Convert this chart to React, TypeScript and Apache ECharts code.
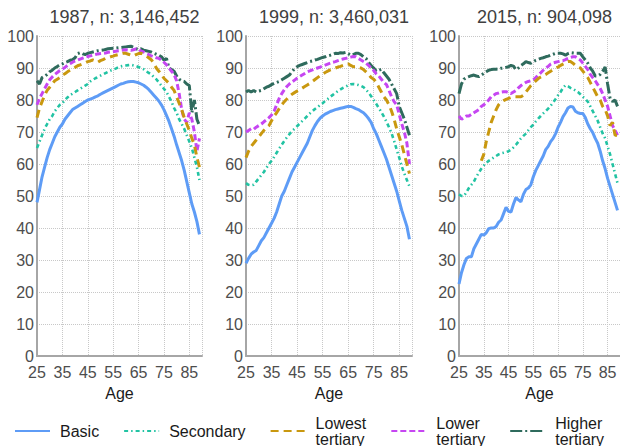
import React, { useEffect, useRef } from "react";
import * as echarts from "echarts";

const ages = [
  25, 26, 27, 28, 29, 30, 31, 32, 33, 34,
  35, 36, 37, 38, 39, 40, 41, 42, 43, 44,
  45, 46, 47, 48, 49, 50, 51, 52, 53, 54,
  55, 56, 57, 58, 59, 60, 61, 62, 63, 64,
  65, 66, 67, 68, 69, 70, 71, 72, 73, 74,
  75, 76, 77, 78, 79, 80, 81, 82, 83, 84,
  85, 86, 87, 88, 89,
];

const categories = ["Basic", "Secondary", "Lowest tertiary", "Lower tertiary", "Higher tertiary"];
const panelTitles = ["1987, n: 3,146,452", "1999, n: 3,460,031", "2015, n: 904,098"];
const xTicks = [25, 35, 45, 55, 65, 75, 85];
const yTicks = [0, 10, 20, 30, 40, 50, 60, 70, 80, 90, 100];

// ---- 1987 ----
const basic1987 = [
  48, 52, 56, 59, 62, 64.5, 66.5, 68.5, 70, 71.5,
  72.5, 74, 75, 76, 77, 77.5, 78, 78.5, 79, 79.5,
  80, 80.3, 80.6, 81, 81.3, 81.8, 82.2, 82.6, 83, 83.4,
  83.8, 84.2, 84.6, 85, 85.2, 85.5, 85.7, 85.8, 85.8, 85.6,
  85.4, 85, 84.6, 84, 83.3, 82.4, 81.5, 80.6, 79.7, 78.5,
  77, 75.2, 73.3, 71, 68.7, 66, 63.5, 61, 58, 54.5,
  51, 47.5, 45, 42, 38,
];
const secondary1987 = [
  65, 67, 69, 71, 72.5, 74, 75, 76.5, 77.5, 78.5,
  79, 80, 80.8, 81.5, 82, 82.5, 83, 83.5, 84, 84.5,
  85, 85.8, 86.3, 86.8, 87.2, 87.6, 88, 88.4, 88.8, 89.2,
  89.5, 89.8, 90.2, 90.5, 90.7, 90.8, 90.9, 91, 90.8, 90.6,
  90.3, 90, 89.6, 89, 88.5, 88, 87.2, 86.5, 85.5, 84.5,
  83.5, 82.5, 81, 79.5, 77.5, 76, 74, 72.5, 71, 69,
  67, 65, 62, 59, 55,
];
const lowest1987 = [
  74.5, 77.5, 79.5, 81.5, 83, 84, 85, 86, 86.5, 87,
  87.8, 88.2, 88.8, 89.3, 89.8, 90.2, 90.7, 91, 91.3, 91.6,
  92, 92.2, 92.5, 92.2, 91.8, 92.3, 92.6, 93, 93.2, 93.5,
  93.7, 94, 94.2, 94.4, 94.6, 94.6, 94.3, 94, 93.8, 94.2,
  94.5, 94.6, 94.2, 93.8, 93.2, 92.6, 91.5, 90, 89, 88,
  86.8, 86, 85.2, 84, 83, 81, 79, 77, 74.5, 72.5,
  70.5, 68, 66, 62, 59,
];
const lower1987 = [
  78.5, 80.5, 82, 83.5, 85, 86.3, 87.2, 88, 88.6, 89.2,
  89.6, 90.2, 90.8, 91.3, 91.8, 92.2, 92.5, 92.8, 93.1, 93.4,
  93.6, 93.8, 94, 94.2, 94.4, 94.5, 94.6, 94.7, 94.9, 95,
  95.1, 95.2, 95.4, 95.5, 95.6, 95.7, 95.6, 95.5, 95.7, 96,
  95.8, 95.3, 95, 94.6, 94.2, 93.8, 93.5, 93.2, 93, 92.5,
  91.8, 91, 90, 89, 88, 86, 82, 77, 74, 73,
  76, 74, 70, 64, 68,
];
const higher1987 = [
  86, 85, 87, 87.5, 88, 88.8, 89.3, 90, 90.5, 91,
  91.3, 91.7, 92, 92.4, 92.6, 93.2, 94.5, 94.8, 94.4, 94.2,
  94.6, 94.8, 95, 95.2, 95.4, 95.5, 95.6, 95.8, 96, 96.1,
  96.2, 96.2, 96.3, 96.4, 96.5, 96.6, 96.7, 96.8, 96.5, 96,
  95.8, 96, 95.6, 95.4, 95.2, 95, 94.6, 94.3, 94, 93.5,
  92.5, 93, 90, 89.5, 89, 87.5, 86.5, 86, 85.8, 85,
  84.5, 76, 80, 74, 72,
];

// ---- 1999 ----
const basic1999 = [
  29, 30.5, 31.8, 32.5, 33, 34.5, 36, 37, 38.5, 40,
  41.5, 43, 45, 47.5, 50, 51.5, 53.5, 55.5, 57.5, 59,
  60.5, 62, 63.5, 65, 66.5, 68.5, 70.5, 72, 73.3, 74.3,
  75, 75.6, 76, 76.4, 76.7, 77, 77.2, 77.4, 77.6, 77.8,
  78, 78, 77.7, 77.3, 77, 76.5, 76, 75.2, 74.2, 73,
  71, 69.5, 67.5, 65.5, 63.5, 61.5, 59, 56.5, 54, 51.5,
  48.5, 45.5, 43, 40.5, 36.5,
];
const secondary1999 = [
  54, 53.5, 53.3, 53.5, 54.5, 55.5, 56.5, 57.5, 58.8, 60,
  61, 62.2, 63.5, 64.8, 66, 67.2, 68.3, 69.3, 70.3, 71,
  71.8, 72.6, 73.4, 74.2, 75, 75.8, 76.5, 77.2, 77.8, 78.4,
  79, 79.7, 80.3, 81, 81.6, 82.2, 82.8, 83.3, 83.8, 84.2,
  84.6, 84.9, 85, 84.9, 84.7, 84.4, 84, 83.2, 82.3, 81.2,
  80, 78.8, 77.5, 76.2, 74.8, 73.2, 71.5, 69.6, 67.2, 64.5,
  62, 59.2, 57, 55, 53,
];
const lowest1999 = [
  62, 64, 65.5, 66.5, 67.5, 68.5, 69.5, 70.5, 71.3, 72,
  73.5, 75, 76, 77.3, 78.5, 79.5, 80.3, 81.2, 81.8, 82.3,
  82.8, 83.2, 83.7, 84.2, 84.7, 85.2, 85.8, 86.4, 87, 87.6,
  88.1, 88.6, 89, 89.4, 89.7, 90, 90.3, 90.5, 90.8, 91.1,
  91.3, 90.8, 90.4, 90.5, 90.3, 90, 89.5, 88.8, 88, 87,
  86.5, 85.5, 84, 82.5, 81, 80, 78.5, 76.5, 74, 71,
  68.5, 66, 63, 60, 57,
];
const lower1999 = [
  70, 70.5, 71, 70.8, 71.5, 72, 72.5, 73.2, 73.8, 74.5,
  75.3, 76.5, 78.5, 80.5, 82, 83.2, 84.2, 85, 85.6, 86.2,
  86.8, 87.3, 87.8, 88.3, 88.8, 89.1, 89.4, 89.7, 90, 90.3,
  90.6, 90.9, 91.2, 91.5, 91.8, 92, 92.3, 92.6, 92.8, 93,
  93.2, 93.4, 93.6, 93.5, 93, 92.5, 92, 91.5, 90.8, 90,
  89.2, 88.2, 87.5, 86.5, 85.5, 84.8, 83, 81, 79.5, 78.5,
  75.5, 72.5, 70, 66.5, 60,
];
const higher1999 = [
  82.5, 83, 82.5, 83, 82.5, 82.8, 83, 83.5, 84, 84.3,
  84.8, 85.2, 85.5, 85.8, 86.3, 86.8, 87.3, 87.8, 88.8, 89.8,
  90.4, 90.8, 91.1, 91.4, 91.7, 92, 92.2, 92.5, 92.7, 93,
  93.3, 93.5, 93.8, 94, 94.3, 94.6, 94.5, 94.8, 94.7, 94.9,
  94.5, 94, 94.2, 94.6, 94.6, 94.2, 93.5, 93, 91.8, 90.8,
  90, 89, 89.3, 89.6, 88.5, 87.5, 86.5, 85, 83.5, 82,
  78, 76, 74, 71.5, 69,
];

// ---- 2015 ----
const basic2015 = [
  22.5, 26, 28.5, 30.5, 31, 31, 33.5, 35, 36.5, 38,
  37.8, 38.5, 39.8, 40, 40, 40.5, 41.8, 42.5, 44.5, 46.5,
  45.2, 45, 47.5, 49.5, 48.8, 48.2, 50.5, 52, 52.5, 53.5,
  56, 58, 59.5, 61, 62.5, 64.5, 65.5, 67, 68, 69.5,
  71.5, 73, 74.8, 76, 77.5, 78, 77.8, 76.5, 76, 75.8,
  75.8, 74.5, 72.5, 71, 69.8, 68, 66.5, 64, 61, 58.5,
  55.5, 53, 50.5, 48, 45.5,
];
const secondary2015 = [
  50.5, 50, 50, 51.2, 52.5, 53.5, 54.5, 56, 57.3, 58.5,
  59.5, 60.3, 61, 61.5, 62, 62.5, 63, 63.3, 63.5, 63.7,
  64, 64.5, 65.2, 66, 67, 68, 68.8, 69.5, 70.5, 71.5,
  72.3, 73.3, 74.2, 75, 75.8, 76.5, 77.3, 78.2, 79.2, 80.3,
  81.5, 82.5, 83.8, 84.6, 84.3, 83.8, 83.5, 83, 82.5, 81.8,
  81, 80.3, 79.5, 78, 76.5, 75, 73.5, 71.5, 69.5, 68,
  65.5, 63, 60, 57, 54,
];
const lowest2015 = [
  null, null, null, null, null, null, null, null, null, 61,
  63, 67, 70, 73, 75, 77, 78.5, 79.3, 79.8, 80.2,
  80.5, 80.8, 81, 81, 81, 81, 81.5, 82.5, 83.5, 84.5,
  85.2, 86, 86.7, 87.2, 87.6, 88, 88.5, 89, 89.5, 90,
  90.3, 90.8, 91.2, 91.6, 92, 92, 91.5, 90.8, 90.5, 90,
  89, 88, 87, 85.5, 84, 82.5, 81, 80, 78, 77,
  75, 72, 73, 69, 69,
];
const lower2015 = [
  75, 74, 74.5, 75, 75, 75.5, 76, 76.5, 77, 78,
  78.5, 79.2, 80, 81, 81.5, 82, 82.2, 82.5, 82.6, 82.6,
  82.3, 82, 82.5, 83, 83.8, 84.5, 85, 85.5, 85.8, 86,
  86.3, 87, 87.8, 88.5, 89.3, 90, 90.5, 91.2, 91.6, 91.8,
  92, 92.2, 92.3, 92.6, 93, 93.3, 93.5, 93.5, 93, 92.5,
  91.5, 90.5, 89.5, 88, 87, 86, 84.8, 83.6, 82, 80,
  78, 75, 72, 70.5, 69,
];
const higher2015 = [
  82, 85, 86.5, 87, 87.3, 87.6, 87.8, 87.5, 87.3, 87.8,
  88.3, 88.8, 89.3, 89.5, 89.6, 89.6, 89.7, 89.9, 90, 90.2,
  90.4, 90.8, 90.6, 89.5, 90, 90.8, 91.3, 92, 91.7, 91.5,
  92, 92.4, 92.7, 93, 93.2, 93.5, 93.7, 94, 94.3, 94.6,
  94.6, 94.6, 94.4, 94, 94.5, 94.8, 94.7, 94.6, 94.6, 94.6,
  93.5, 92.5, 91.5, 90, 89, 87.5, 87.5, 88, 89, 90.3,
  85, 80.5, 79.5, 80, 78,
];

const panels = [
  [basic1987, secondary1987, lowest1987, lower1987, higher1987],
  [basic1999, secondary1999, lowest1999, lower1999, higher1999],
  [basic2015, secondary2015, lowest2015, lower2015, higher2015],
];

const colors = ["#5E9CF6", "#22C3A3", "#C9980F", "#C646F2", "#2F6B5D"];
const dashes: any[] = ["solid", [4, 3, 1.5, 3], [8, 5], [6, 3], [12, 3, 2, 3]];
const widths = [3, 2.6, 3, 3, 3];

const grids = [
  { left: 37, top: 36, width: 165, height: 320 },
  { left: 246, top: 36, width: 166, height: 320 },
  { left: 459, top: 36, width: 161, height: 320 },
];

export default function App() {
  const ref = useRef<HTMLDivElement>(null);
  useEffect(() => {
    if (!ref.current) return;
    const chart = echarts.init(ref.current, undefined, { renderer: "svg" });
    const font = "'Liberation Sans', Arial, sans-serif";
    const series: any[] = [];
    panels.forEach((vals, p) => {
      vals.forEach((v, k) => {
        series.push({
          type: "line",
          name: categories[k],
          xAxisIndex: p,
          yAxisIndex: p,
          data: ages.map((a, i) => [a, v[i]]),
          symbol: "none",
          showSymbol: false,
          connectNulls: false,
          color: colors[k],
          lineStyle: { color: colors[k], width: widths[k], type: dashes[k] },
          z: 10 - k,
        });
      });
    });
    const option: any = {
      animation: false,
      textStyle: { fontFamily: font },
      title: panelTitles.map((t, i) => ({
        text: t,
        left: grids[i].left + grids[i].width / 2,
        top: 3,
        textAlign: "center",
        textStyle: { fontSize: 18, fontWeight: "normal", color: "#404040", fontFamily: font },
      })),
      grid: grids,
      xAxis: grids.map((g, i) => ({
        type: "value",
        gridIndex: i,
        min: xTicks[0],
        max: 90,
        interval: 10,
        name: "Age",
        nameLocation: "middle",
        nameGap: 28,
        nameTextStyle: { fontSize: 16, color: "#1a1a1a", fontFamily: font, lineHeight: 14 },
        axisLine: { show: true, onZero: false, lineStyle: { color: "#a6a6a6", width: 2 } },
        axisTick: { show: false },
        axisLabel: { fontSize: 16, lineHeight: 13, color: "#4d4d4d", margin: 10, showMaxLabel: false, fontFamily: font },
        splitLine: { show: true, lineStyle: { type: "dotted", color: "#c8c8c8", width: 1 } },
      })),
      yAxis: grids.map((g, i) => ({
        type: "value",
        gridIndex: i,
        min: yTicks[0],
        max: yTicks[yTicks.length - 1],
        interval: 10,
        axisLine: { show: true, lineStyle: { color: "#a6a6a6", width: 2 } },
        axisTick: { show: false },
        axisLabel: { fontSize: 16, lineHeight: 12, color: "#4d4d4d", margin: 3, fontFamily: font },
        splitLine: { show: true, lineStyle: { type: "dotted", color: "#c8c8c8", width: 1 } },
      })),
      legend: {
        data: categories,
        left: 14,
        top: 415,
        padding: 0,
        itemWidth: 35,
        itemHeight: 14,
        itemGap: 24,
        itemStyle: { opacity: 0 },
        formatter: (n: string) => n.replace(" ", "\n"),
        textStyle: { fontSize: 16, lineHeight: 16, color: "#1a1a1a", padding: [0, 0, 0, 5], fontFamily: font },
      },
      series,
    };
    chart.setOption(option);
    return () => chart.dispose();
  }, []);
  return (
    <div
      ref={ref}
      style={{ position: "fixed", left: 0, top: 0, width: 620, height: 446, background: "#fff" }}
    />
  );
}
